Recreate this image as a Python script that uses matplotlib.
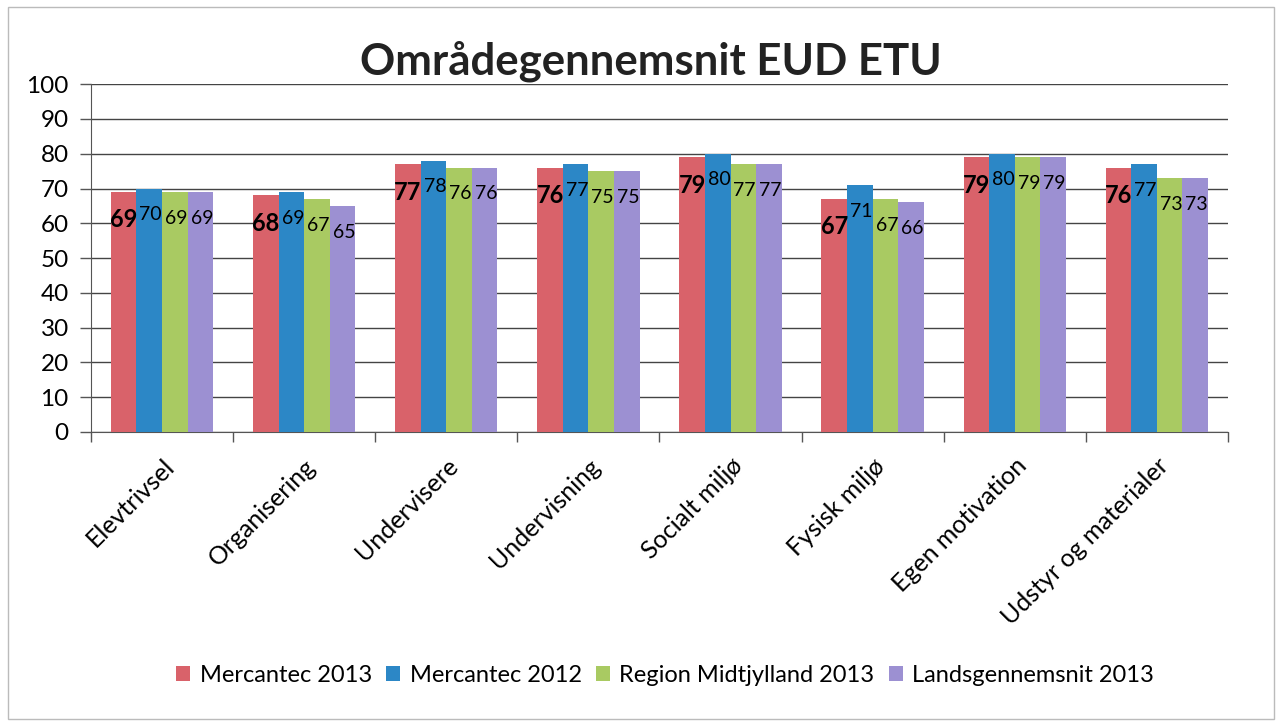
import numpy as np
import matplotlib.pyplot as plt
from matplotlib.patches import Rectangle

plt.rcParams["font.family"] = ["Lato", "DejaVu Sans"]

categories = ["Elevtrivsel", "Organisering", "Undervisere", "Undervisning",
              "Socialt miljø", "Fysisk miljø", "Egen motivation",
              "Udstyr og materialer"]
series_names = ["Mercantec 2013", "Mercantec 2012",
                "Region Midtjylland 2013", "Landsgennemsnit 2013"]
mercantec_2013 = [69, 68, 77, 76, 79, 67, 79, 76]
mercantec_2012 = [70, 69, 78, 77, 80, 71, 80, 77]
region_2013 = [69, 67, 76, 75, 77, 67, 79, 73]
lands_2013 = [69, 65, 76, 75, 77, 66, 79, 73]
yticks = list(range(0, 101, 10))

colors = ["#D9626A", "#2C87C6", "#A9CA62", "#9C90D2"]
series = [mercantec_2013, mercantec_2012, region_2013, lands_2013]

fig = plt.figure(figsize=(12.79, 7.26), dpi=100)
ax = fig.add_axes([0.0711, 0.405, 0.889, 0.479])

x = np.arange(len(categories))
w = 0.18
for i, (vals, c, name) in enumerate(zip(series, colors, series_names)):
    pos = x + (i - 1.5) * w
    ax.bar(pos, vals, width=w, color=c, label=name, zorder=3)
    for p, v in zip(pos, vals):
        if i == 0:
            ax.text(p, v - 8, str(v), ha="center", va="center",
                    fontsize=17, fontweight="bold", color="black", zorder=4)
        else:
            ax.text(p + 0.01, v - 7.5, str(v), ha="center", va="center",
                    fontsize=14, color="black", zorder=4)

ax.set_xlim(-0.5, len(categories) - 0.5)
ax.set_ylim(0, 100)
ax.set_yticks(yticks)
ax.tick_params(axis="y", labelsize=17.5, length=8, width=1, color="#555555", pad=8)
ax.yaxis.grid(True, color="#444444", linewidth=1, zorder=0)
ax.set_axisbelow(True)

ax.set_xticks(x)
ax.set_xticklabels(categories, rotation=45, ha="right", rotation_mode="anchor",
                   fontsize=18)
ax.tick_params(axis="x", length=0, pad=16)
ax.set_xticks(np.arange(len(categories) + 1) - 0.5, minor=True)
ax.tick_params(axis="x", which="minor", length=7, width=1, color="#555555")

for s in ["top", "right"]:
    ax.spines[s].set_visible(False)
ax.spines["left"].set_color("#555555")
ax.spines["bottom"].set_color("#555555")

fig.text(0.509, 0.915, "Områdegennemsnit EUD ETU", ha="center", va="center",
         fontsize=31.5, fontweight="bold", color="#222222")

handles, labels = ax.get_legend_handles_labels()
fig.legend(handles, labels, loc="center", bbox_to_anchor=(0.52, 0.07), ncol=4,
           frameon=False, fontsize=17, handlelength=0.6, handleheight=0.6,
           handletextpad=0.4, columnspacing=0.6)

fig.patches.append(Rectangle((0.006, 0.01), 0.99, 0.98, transform=fig.transFigure,
                             fill=False, edgecolor="#BBBBBB", linewidth=1))

fig.savefig("out.png", dpi=100)
